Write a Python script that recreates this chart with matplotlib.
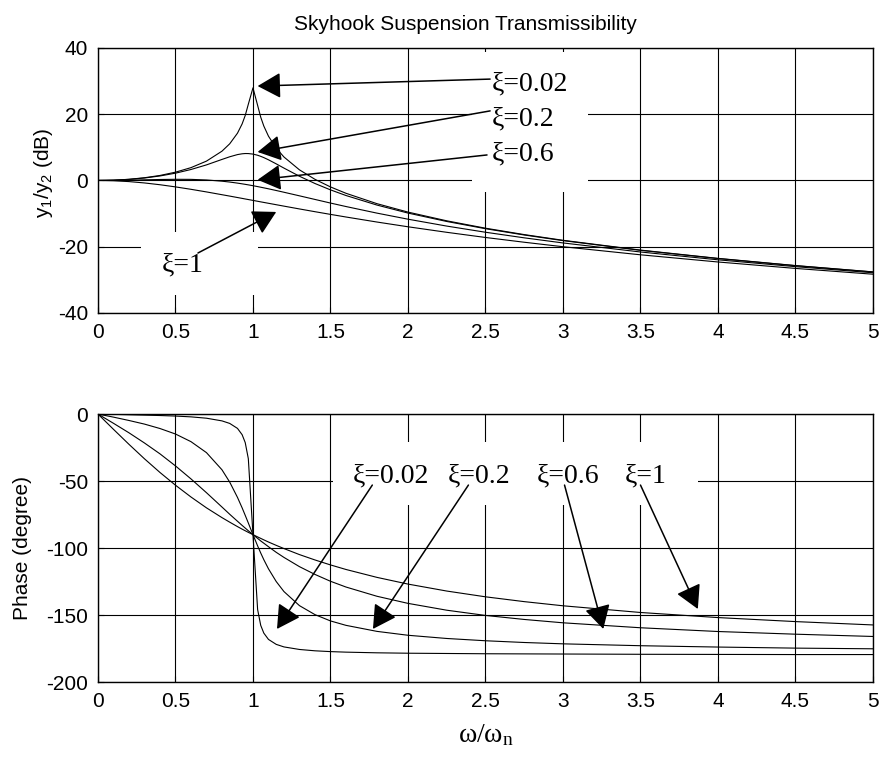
import matplotlib
matplotlib.use("Agg")
import matplotlib.pyplot as plt
from matplotlib.patches import Rectangle

plt.rcParams['font.family'] = ['Liberation Sans', 'DejaVu Sans']
plt.rcParams['mathtext.fontset'] = 'custom'
plt.rcParams['mathtext.rm'] = 'Liberation Serif'
plt.rcParams['mathtext.sf'] = 'Liberation Sans'
plt.rcParams['axes.unicode_minus'] = False

# frequency ratio w/wn
r = [0, 0.1, 0.2, 0.3, 0.4, 0.5, 0.6, 0.7, 0.8, 0.85, 0.9, 0.93, 0.95, 0.97, 1.0,
     1.03, 1.05, 1.07, 1.1, 1.15, 1.2, 1.3, 1.4, 1.5, 1.6, 1.8, 2.0, 2.25, 2.5,
     2.75, 3.0, 3.5, 4.0, 4.5, 5.0]

# magnitude y1/y2 in dB
mag_002 = [0, 0.09, 0.35, 0.82, 1.51, 2.50, 3.87, 5.84, 8.84, 11.07, 14.27, 17.07, 19.61, 23.01, 27.96,
           22.67, 19.11, 16.42, 13.37, 9.74, 7.08, 3.20, 0.34, -1.95, -3.87, -7.01, -9.55, -12.18, -14.41,
           -16.34, -18.06, -21.02, -23.52, -25.69, -27.60]
mag_02 = [0, 0.08, 0.33, 0.74, 1.36, 2.20, 3.31, 4.70, 6.35, 7.15, 7.81, 8.05, 8.13, 8.12, 7.96,
          7.61, 7.28, 6.90, 6.24, 5.01, 3.73, 1.27, -0.92, -2.84, -4.54, -7.43, -9.84, -12.38, -14.56,
          -16.46, -18.16, -21.09, -23.57, -25.73, -27.63]
mag_06 = [0, 0.02, 0.09, 0.19, 0.29, 0.35, 0.33, 0.15, -0.22, -0.48, -0.80, -1.02, -1.17, -1.33, -1.58,
          -1.85, -2.04, -2.23, -2.52, -3.03, -3.56, -4.64, -5.73, -6.82, -7.87, -9.86, -11.69, -13.77, -15.63,
          -17.32, -18.86, -21.59, -23.95, -26.02, -27.87]
mag_1 = [0, -0.09, -0.34, -0.75, -1.29, -1.94, -2.67, -3.46, -4.30, -4.72, -5.15, -5.41, -5.59, -5.76, -6.02,
         -6.28, -6.46, -6.63, -6.89, -7.32, -7.75, -8.60, -9.43, -10.24, -11.03, -12.55, -13.98, -15.65, -17.21,
         -18.65, -20.00, -22.44, -24.61, -26.55, -28.30]

# phase in degrees
ph_002 = [0, -0.2, -0.5, -0.8, -1.1, -1.5, -2.1, -3.1, -5.1, -7.0, -10.7, -15.4, -21.3, -33.3, -90.0,
          -145.9, -157.7, -163.5, -168.2, -171.9, -173.8, -175.7, -176.7, -177.3, -177.7, -178.2, -178.5,
          -178.7, -178.9, -179.0, -179.1, -179.3, -179.4, -179.5, -179.5]
ph_02 = [0, -2.3, -4.8, -7.5, -10.8, -14.9, -20.6, -28.8, -41.6, -50.8, -62.2, -70.0, -75.6, -81.3, -90.0,
         -98.4, -103.7, -108.7, -115.5, -125.0, -132.5, -143.0, -149.7, -154.4, -157.7, -162.2, -165.1,
         -167.5, -169.2, -170.5, -171.5, -172.9, -173.9, -174.7, -175.2]
ph_06 = [0, -6.9, -14.0, -21.6, -29.7, -38.7, -48.4, -58.7, -69.4, -74.8, -80.0, -83.1, -85.1, -87.1, -90.0,
         -92.8, -94.7, -96.4, -99.0, -103.2, -107.0, -113.9, -119.7, -124.8, -129.1, -136.0, -141.3,
         -146.4, -150.3, -153.3, -155.8, -159.5, -162.3, -164.3, -166.0]
ph_1 = [0, -11.4, -22.6, -33.4, -43.6, -53.1, -61.9, -70.0, -77.3, -80.7, -84.0, -85.9, -87.1, -88.3, -90.0,
        -91.7, -92.8, -93.9, -95.5, -98.0, -100.4, -104.9, -108.9, -112.6, -116.0, -121.9, -126.9,
        -132.1, -136.4, -140.0, -143.1, -148.1, -151.9, -154.9, -157.4]

labels = ['ξ=0.02', 'ξ=0.2', 'ξ=0.6', 'ξ=1']
xticks = [0, 0.5, 1, 1.5, 2, 2.5, 3, 3.5, 4, 4.5, 5]
xtick_labels = ['0', '0.5', '1', '1.5', '2', '2.5', '3', '3.5', '4', '4.5', '5']
mag_ticks = [-40, -20, 0, 20, 40]
ph_ticks = [-200, -150, -100, -50, 0]

fig = plt.figure(figsize=(8.81, 7.6), dpi=100)
ax1 = fig.add_axes([0.1112, 0.5882, 0.8797, 0.3487])
ax2 = fig.add_axes([0.1112, 0.1026, 0.8797, 0.3526])

for ax in (ax1, ax2):
    ax.set_xlim(0, 5)
    ax.set_xticks(xticks)
    ax.set_xticklabels(xtick_labels)
    ax.grid(True, color='black', linewidth=0.8)
    ax.tick_params(direction='in', length=4, labelsize=15, pad=7, colors='black')
    for s in ax.spines.values():
        s.set_linewidth(1.0)

ax1.set_ylim(-40, 40)
ax1.set_yticks(mag_ticks)
ax1.set_yticklabels([str(t) for t in mag_ticks])
ax2.set_ylim(-200, 0)
ax2.set_yticks(ph_ticks)
ax2.set_yticklabels([str(t) for t in ph_ticks])

for m in (mag_002, mag_02, mag_06, mag_1):
    ax1.plot(r, m, color='black', lw=0.8, zorder=3)
for p in (ph_002, ph_02, ph_06, ph_1):
    ax2.plot(r, p, color='black', lw=0.8, zorder=3)

# white boxes behind the labels (they hide the grid)
ax1.add_patch(Rectangle((2.413, -3.5), 0.75, 42.3, facecolor='white', edgecolor='none', zorder=2))
ax1.add_patch(Rectangle((0.28, -34.6), 0.75, 19.1, facecolor='white', edgecolor='none', zorder=2))
ax2.add_patch(Rectangle((1.516, -67.9), 2.355, 47.0, facecolor='white', edgecolor='none', zorder=2))

arrow = dict(arrowstyle='-|>,head_length=0.72,head_width=0.4', mutation_scale=20,
             color='black', lw=1.1, shrinkA=0, shrinkB=0)
lab_font = dict(family='Liberation Serif', fontsize=20, zorder=5)

# magnitude labels and arrows
top_text = [(2.54, 27.3), (2.54, 16.5), (2.54, 5.9), (0.41, -27.6)]
top_start = [(2.53, 30.6), (2.53, 21.0), (2.51, 7.7), (0.645, -21.9)]
top_tip = [(1.03, 28.5), (1.03, 8.6), (1.03, 0.2), (1.15, -9.5)]
for lab, t, s, e in zip(labels, top_text, top_start, top_tip):
    ax1.text(t[0], t[1], lab, ha='left', va='baseline', **lab_font)
    ax1.annotate('', xy=e, xytext=s, arrowprops=arrow, zorder=4)

# phase labels and arrows
bot_text = [(1.645, -50.7), (2.258, -50.7), (2.832, -50.7), (3.40, -50.7)]
bot_start = [(1.77, -53), (2.39, -53), (3.01, -53), (3.50, -53)]
bot_tip = [(1.155, -160.4), (1.774, -160.4), (3.26, -160.4), (3.87, -145.5)]
for lab, t, s, e in zip(labels, bot_text, bot_start, bot_tip):
    ax2.text(t[0], t[1], lab, ha='left', va='baseline', **lab_font)
    ax2.annotate('', xy=e, xytext=s, arrowprops=arrow, zorder=4)

ax1.set_ylabel(r'y$_\mathsf{1}$/y$_\mathsf{2}$ (dB)', fontsize=15)
ax1.yaxis.set_label_coords(-0.055, 0.53)
ax2.set_ylabel('Phase (degree)', fontsize=15)
ax2.yaxis.set_label_coords(-0.085, 0.5)
ax2.set_xlabel(r'$\mathrm{\omega/\omega_n}$', fontsize=20, labelpad=8)

fig.text(465 / 881, 1 - 25 / 760, 'Skyhook Suspension Transmissibility',
         ha='center', va='center', fontsize=15)

fig.savefig('out.png', dpi=100, facecolor='white')
